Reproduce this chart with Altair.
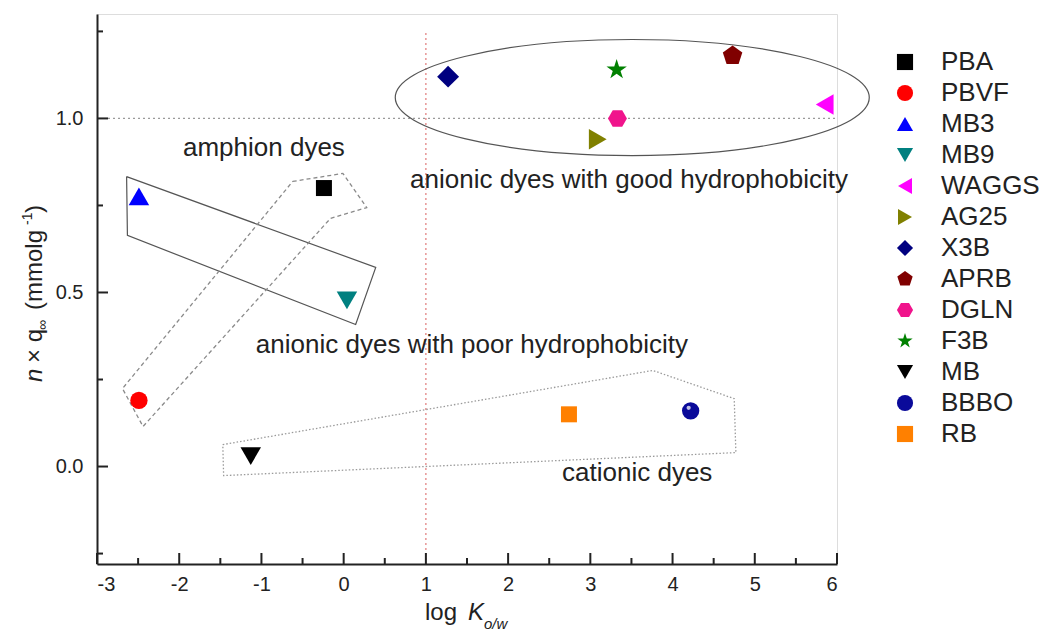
import altair as alt
import pandas as pd

FONT = "Liberation Sans"

# ---------------- data ----------------
dyes = ["PBA", "PBVF", "MB3", "MB9", "WAGGS", "AG25", "X3B", "APRB", "DGLN", "F3B", "MB", "BBBO", "RB"]
log_kow = [-0.24, -2.49, -2.49, 0.04, 5.85, 3.09, 1.27, 4.73, 3.33, 3.32, -1.13, 4.22, 2.74]
nq = [0.80, 0.19, 0.776, 0.477, 1.04, 0.94, 1.12, 1.18, 1.00, 1.14, 0.03, 0.16, 0.15]

colors = ["#000000", "#ff0000", "#0000ff", "#008080", "#ff00ff", "#808000",
          "#000080", "#800000", "#f0148c", "#008000", "#000000", "#0a0a9a", "#ff8000"]

PENTAGON = "M0,-1L0.951,-0.309L0.588,0.809L-0.588,0.809L-0.951,-0.309Z"
HEXAGON = "M-1,0L-0.5,-0.866L0.5,-0.866L1,0L0.5,0.866L-0.5,0.866Z"
STAR = ("M0,-1L0.2245,-0.309L0.951,-0.309L0.363,0.118L0.588,0.809L0,0.382"
        "L-0.588,0.809L-0.363,0.118L-0.951,-0.309L-0.2245,-0.309Z")
shapes = ["square", "circle", "triangle-up", "triangle-down", "triangle-left", "triangle-right",
          "diamond", PENTAGON, HEXAGON, STAR, "triangle-down", "circle", "square"]
marker_sizes = [256, 300, 420, 420, 420, 420, 480, 420, 360, 460, 420, 300, 256]

# axis ticks
x_major = [-3, -2, -1, 0, 1, 2, 3, 4, 5, 6]
x_minor = [-2.5, -1.5, -0.5, 0.5, 1.5, 2.5, 3.5, 4.5, 5.5]
y_major = [0.0, 0.5, 1.0]
y_minor = [-0.25, 0.25, 0.75, 1.25]

# group outlines (vertices in data units)
rect_x = [-2.64, 0.39, 0.146, -2.63, -2.64]
rect_y = [0.833, 0.572, 0.408, 0.664, 0.833]
amph_x = [-0.62, -0.01, 0.28, -0.16, -2.44, -2.69, -0.62]
amph_y = [0.819, 0.842, 0.744, 0.713, 0.115, 0.224, 0.819]
cat_x = [-1.47, 3.76, 4.75, 4.77, -1.46, -1.47]
cat_y = [0.063, 0.276, 0.195, 0.040, -0.026, 0.063]
ell_cx = [3.51]
ell_cy = [1.06]

# annotations
ann_text = ["amphion dyes", "anionic dyes with good hydrophobicity",
            "anionic dyes with poor hydrophobicity", "cationic dyes"]
ann_x = [-0.97, 3.47, 1.56, 3.57]
ann_y = [0.914, 0.822, 0.348, -0.02]

W, H = 740, 550
xs = alt.Scale(domain=[-3, 6], nice=False, zero=False)
ys = alt.Scale(domain=[-0.28, 1.30], nice=False, zero=False)

pts = pd.DataFrame({"dye": dyes, "x": log_kow, "y": nq, "sz": marker_sizes})

# ---------------- base axes ----------------
axis_x = alt.Axis(values=x_major, labelExpr="'' + datum.value", labelFontSize=20, labelFont=FONT,
                  labelColor="#222", ticks=False, tickSize=0, labelPadding=10, domainColor="#222",
                  domainWidth=2, grid=False, title=None)
axis_y = alt.Axis(values=y_major, format=".1f", labelFontSize=20, labelFont=FONT, labelColor="#222",
                  ticks=False, tickSize=0, labelPadding=14, domainColor="#222", domainWidth=2,
                  grid=False, title=None)

points = alt.Chart(pts).mark_point(filled=True, opacity=1, strokeWidth=0).encode(
    x=alt.X("x:Q", scale=xs, axis=axis_x),
    y=alt.Y("y:Q", scale=ys, axis=axis_y),
    color=alt.Color("dye:N", scale=alt.Scale(domain=dyes, range=colors), sort=dyes,
                    legend=alt.Legend(orient="none", legendX=795, legendY=35, title=None,
                                      labelFontSize=26, labelFont=FONT, labelColor="#222",
                                      symbolSize=260, rowPadding=5, labelOffset=23, padding=0,
                                      symbolStrokeWidth=0, symbolOpacity=1)),
    shape=alt.Shape("dye:N", scale=alt.Scale(domain=dyes, range=shapes), sort=dyes),
    size=alt.Size("sz:Q", scale=None, legend=None),
)

# sphere highlight for BBBO
hl = alt.Chart(pts[pts.dye == "BBBO"]).mark_point(filled=True, color="white", opacity=0.75,
                                                 size=18, xOffset=-2, yOffset=-3).encode(
    x=alt.X("x:Q", scale=xs), y=alt.Y("y:Q", scale=ys))

# manual inward ticks
tick_style = dict(color="#222", strokeWidth=2)
xt_major = alt.Chart(pd.DataFrame({"v": x_major})).mark_rule(**tick_style).encode(
    x=alt.X("v:Q", scale=xs), y=alt.value(H), y2=alt.value(H - 11))
xt_minor = alt.Chart(pd.DataFrame({"v": x_minor})).mark_rule(**tick_style).encode(
    x=alt.X("v:Q", scale=xs), y=alt.value(H), y2=alt.value(H - 6))
yt_major = alt.Chart(pd.DataFrame({"v": y_major})).mark_rule(**tick_style).encode(
    y=alt.Y("v:Q", scale=ys), x=alt.value(0), x2=alt.value(11))
yt_minor = alt.Chart(pd.DataFrame({"v": y_minor})).mark_rule(**tick_style).encode(
    y=alt.Y("v:Q", scale=ys), x=alt.value(0), x2=alt.value(6))

# reference lines
hline = alt.Chart(pd.DataFrame({"v": [1.0]})).mark_rule(color="#9a9a9a", strokeDash=[2, 3],
                                                        strokeWidth=1.2).encode(
    y=alt.Y("v:Q", scale=ys), x=alt.value(11), x2=alt.value(W))
vline = alt.Chart(pd.DataFrame({"v": [1.0]})).mark_rule(color="#e07a7a", strokeDash=[2, 3],
                                                        strokeWidth=1.2).encode(
    x=alt.X("v:Q", scale=xs), y=alt.value(19), y2=alt.value(H))


def outline(xv, yv, **style):
    df = pd.DataFrame({"x": xv, "y": yv, "o": list(range(len(xv)))})
    return alt.Chart(df).mark_line(**style).encode(
        x=alt.X("x:Q", scale=xs), y=alt.Y("y:Q", scale=ys), order="o:Q")


rect = outline(rect_x, rect_y, color="#555555", strokeWidth=1.2)
amph = outline(amph_x, amph_y, color="#8a8a8a", strokeWidth=1.3, strokeDash=[4, 3])
cat = outline(cat_x, cat_y, color="#9a9a9a", strokeWidth=1.3, strokeDash=[1.5, 2])

ELLIPSE = "M-1,0A1,0.245,0,1,0,1,0A1,0.245,0,1,0,-1,0Z"
ell = alt.Chart(pd.DataFrame({"x": ell_cx, "y": ell_cy})).mark_point(
    shape=ELLIPSE, filled=False, size=474 * 474, color="#555555", strokeWidth=1.2, opacity=1).encode(
    x=alt.X("x:Q", scale=xs), y=alt.Y("y:Q", scale=ys))

ann = alt.Chart(pd.DataFrame({"t": ann_text, "x": ann_x, "y": ann_y})).mark_text(
    font=FONT, fontSize=26, color="#222", align="center", baseline="middle").encode(
    x=alt.X("x:Q", scale=xs), y=alt.Y("y:Q", scale=ys), text="t:N")


def piece(text, x, y, size, italic=False, angle=0, align="left"):
    kw = dict(font=FONT, fontSize=size, color="#222", align=align, baseline="alphabetic", angle=angle)
    if italic:
        kw["fontStyle"] = "italic"
    return alt.Chart(pd.DataFrame({"t": [text]})).mark_text(**kw).encode(
        x=alt.value(x), y=alt.value(y), text="t:N")


# x-axis title: log K_o/w
xtitle = [
    piece("log", 328, 606, 24),
    piece("K", 371, 606, 24, italic=True),
    piece("o/w", 387, 615, 15, italic=True),
]
# y-axis title: n x q_inf (mmolg^-1), rotated
yx = -55
ytitle = [
    piece("n", yx, 368, 24, italic=True, angle=270),
    piece("\u00d7 q", yx, 349, 24, angle=270),
    piece("\u221e", yx + 5, 316, 14, angle=270),
    piece("(mmolg", yx, 296, 24, angle=270),
    piece("-1", yx - 10, 211, 14, angle=270),
    piece(")", yx, 199, 24, angle=270),
]

chart = alt.layer(
    hline, vline, rect, amph, cat, ell, ann,
    xt_major, xt_minor, yt_major, yt_minor,
    points, hl, *xtitle, *ytitle
).properties(
    width=W, height=H,
    autosize=alt.AutoSizeParams(type="none"),
    padding={"left": 97, "top": 14, "right": 207, "bottom": 69},
).configure_view(stroke=None).configure(background="white")

chart.save("out.html", embed_options={"renderer": "svg", "actions": False})
